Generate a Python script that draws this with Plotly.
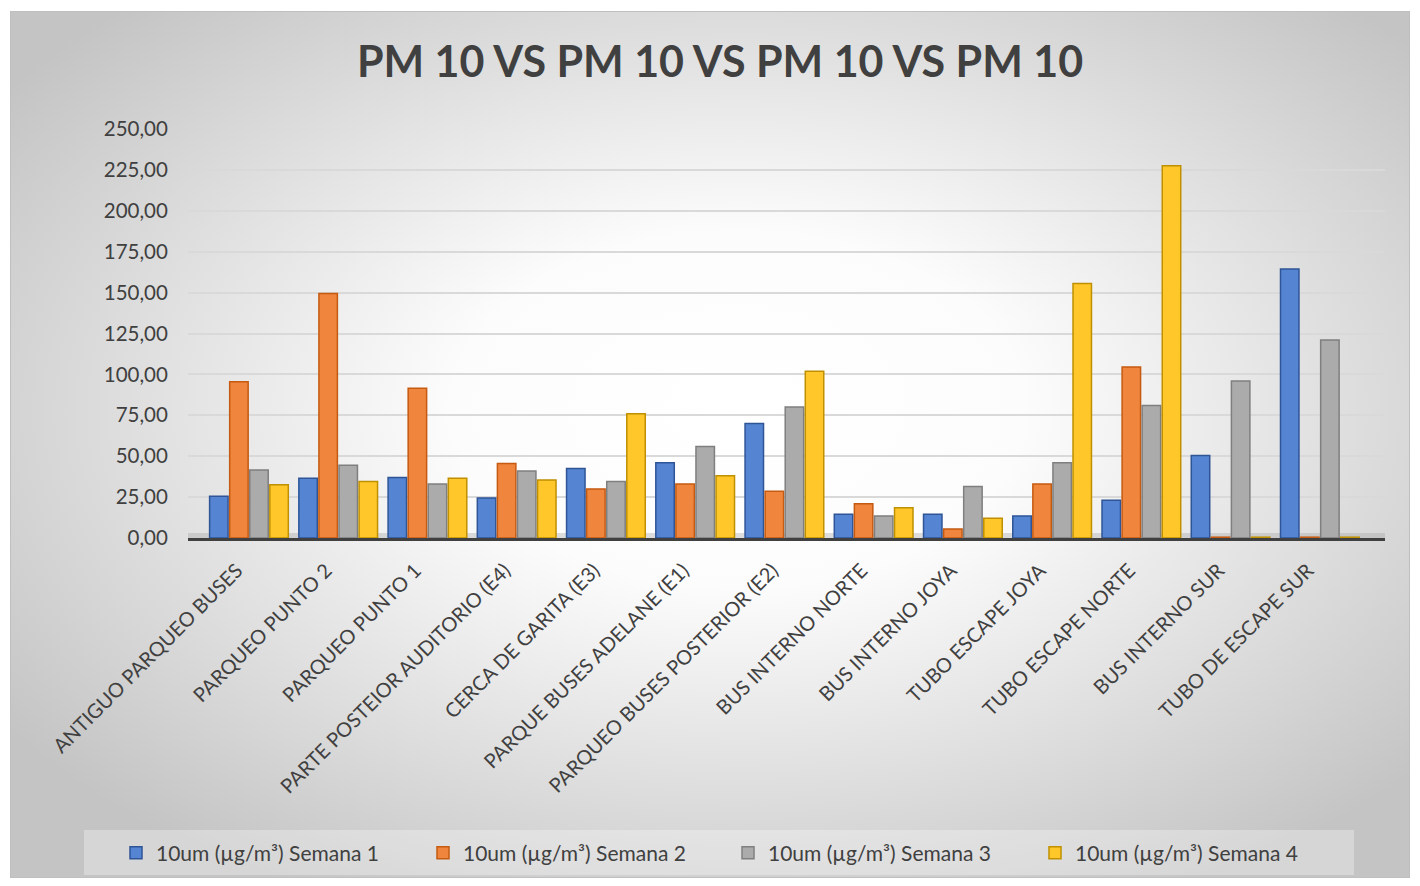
import base64
import plotly.graph_objects as go

categories = [
    "ANTIGUO PARQUEO BUSES", "PARQUEO PUNTO 2", "PARQUEO PUNTO 1",
    "PARTE POSTEIOR AUDITORIO (E4)", "CERCA DE GARITA (E3)",
    "PARQUE BUSES ADELANE (E1)", "PARQUEO BUSES POSTERIOR (E2)",
    "BUS INTERNO NORTE", "BUS INTERNO JOYA", "TUBO ESCAPE JOYA",
    "TUBO ESCAPE NORTE", "BUS INTERNO SUR", "TUBO DE ESCAPE SUR",
]
semana1 = [25.5, 36.5, 37.0, 24.5, 42.5, 46.0, 70.0, 14.5, 14.5, 13.5, 23.0, 50.5, 164.5]
semana2 = [95.5, 149.5, 91.5, 45.5, 30.0, 33.0, 28.5, 21.0, 5.5, 33.0, 104.5, 0.5, 0.5]
semana3 = [41.5, 44.5, 33.0, 41.0, 34.5, 56.0, 80.0, 13.5, 31.5, 46.0, 81.0, 96.0, 121.0]
semana4 = [32.5, 34.5, 36.5, 35.5, 76.0, 38.0, 102.0, 18.5, 12.0, 155.5, 227.5, 0.5, 0.5]
series_names = [
    "10um (µg/m³) Semana 1", "10um (µg/m³) Semana 2",
    "10um (µg/m³) Semana 3", "10um (µg/m³) Semana 4",
]
tick_vals = [0, 25, 50, 75, 100, 125, 150, 175, 200, 225, 250]
title_text = "PM 10 VS PM 10 VS PM 10 VS PM 10"

fills = ["#5584d2", "#f0853d", "#ababab", "#ffc72a"]
lines = ["#2f5597", "#c55a11", "#7f7f7f", "#bf9000"]

FONT = "Lato"
TXT = "#404040"

# plot area in pixels: x 188..1385, y 129..538
W, H = 1420, 886
L, R, T, B = 188, 1385, 129, 538
pw, ph = R - L, B - T


def px_x(p):
    return (p - L) / pw


def px_y(p):
    return (B - p) / ph


legend_ids = ["legend", "legend2", "legend3", "legend4"]
legend_text_x = [156, 463, 768, 1075]

fig = go.Figure()
for name, vals, fc, lc, lid in zip(series_names, [semana1, semana2, semana3, semana4],
                                   fills, lines, legend_ids):
    fig.add_trace(go.Bar(
        x=categories, y=vals, name=name, legend=lid,
        marker=dict(color=fc, line=dict(color=lc, width=1.5)),
    ))

svg = '''<svg xmlns="http://www.w3.org/2000/svg" width="1400" height="867" viewBox="0 0 1400 867" preserveAspectRatio="none">
<defs><radialGradient id="g" cx="52%" cy="46%" r="64%">
<stop offset="0%" stop-color="#ffffff"/><stop offset="32%" stop-color="#fcfcfc"/>
<stop offset="100%" stop-color="#c4c4c4"/></radialGradient></defs>
<rect x="0.5" y="0.5" width="1399" height="866" fill="url(#g)" stroke="#bfbfbf" stroke-width="1"/>
</svg>'''
src = "data:image/svg+xml;base64," + base64.b64encode(svg.encode()).decode()

fig.add_layout_image(dict(
    source=src, xref="paper", yref="paper",
    x=px_x(10), y=px_y(11), sizex=1400 / pw, sizey=867 / ph,
    xanchor="left", yanchor="top", sizing="stretch", layer="below",
))

# legend background band
fig.add_shape(type="rect", xref="paper", yref="paper",
              x0=px_x(84), x1=px_x(1354), y0=px_y(875), y1=px_y(830),
              fillcolor="rgba(255,255,255,0.3)", line=dict(width=0), layer="below")

# floor strip
fig.add_shape(type="rect", xref="paper", yref="paper",
              x0=0, x1=1, y0=0, y1=px_y(533),
              fillcolor="rgba(160,160,160,0.35)", line=dict(width=0), layer="below")

layout_legends = {}
for lid, tx in zip(legend_ids, legend_text_x):
    layout_legends[lid] = dict(
        orientation="h", x=px_x(tx - 40), xanchor="left", y=px_y(853), yanchor="middle",
        bgcolor="rgba(0,0,0,0)", font=dict(size=21, color=TXT, family=FONT),
        itemwidth=30,
    )

fig.update_layout(
    width=W, height=H,
    margin=dict(l=L, r=W - R, t=T, b=H - B, pad=0),
    paper_bgcolor="white", plot_bgcolor="rgba(0,0,0,0)",
    separators=", ",
    barmode="group", bargap=0.1, bargroupgap=0.08,
    font=dict(family=FONT, color=TXT),
    title=dict(text=f"<b>{title_text}</b>", x=720 / W, xref="container", xanchor="center",
               y=1 - 62 / H, yanchor="middle", yref="container",
               font=dict(size=43, color=TXT, family=FONT)),
    showlegend=True,
    xaxis=dict(
        range=[-0.683, 12.73], tickangle=-45, tickfont=dict(size=20, color=TXT),
        showline=True, linecolor="#404040", linewidth=3, showgrid=False,
        ticks="", ticklabelstandoff=10, ticklabelshift=-12, fixedrange=True,
    ),
    yaxis=dict(
        range=[0, 250], tickvals=tick_vals, tickformat=".2f",
        tickfont=dict(size=20.5, color=TXT), showgrid=True,
        gridcolor="#d9d9d9", gridwidth=1.5, zeroline=False, showline=False,
        ticks="outside", ticklen=15, tickcolor="rgba(0,0,0,0)",
    ),
    **layout_legends,
)

fig.write_html("out.html")
